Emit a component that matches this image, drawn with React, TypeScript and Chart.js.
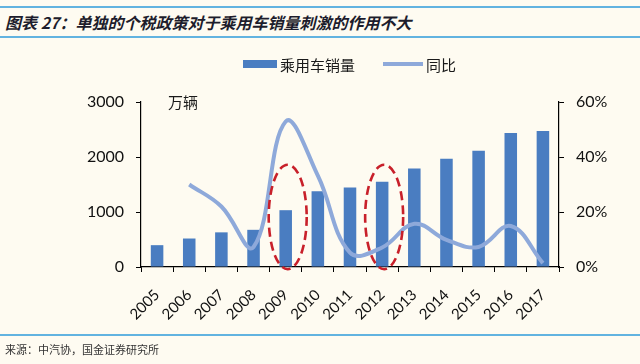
import React, { useEffect, useRef } from "react";
import { Chart, registerables } from "chart.js";

Chart.register(...registerables);

const categories = ["2005", "2006", "2007", "2008", "2009", "2010", "2011", "2012", "2013", "2014", "2015", "2016", "2017"];
const salesValues = [397, 518, 630, 676, 1033, 1376, 1447, 1550, 1793, 1970, 2115, 2438, 2472];
const yoyValues: (number | null)[] = [null, 30, 22, 7.3, 52.9, 33.2, 5.2, 7.1, 15.7, 9.9, 7.3, 14.9, 1.4];
const leftTicks = [0, 1000, 2000, 3000];
const rightTicks = [0, 20, 40, 60];
const highlighted = ["2009", "2012"];
const seriesNames = ["乘用车销量", "同比"];
const unitLabel = "万辆";
const titleText = "图表 27：单独的个税政策对于乘用车销量刺激的作用不大";
const sourceText = "来源：中汽协，国金证券研究所";

const BAR_COLOR = "#4A7DC1";
const LINE_COLOR = "#8EA9DA";
const RED = "#C8202A";
const BG = "#FEFBF1";
const RULE = "#62B3E0";
const NUM_FONT = "Lato, 'Noto Sans', sans-serif";
const CJK_FONT = "'Noto Sans CJK SC', 'Noto Sans', sans-serif";

export default function App() {
  const ref = useRef<HTMLCanvasElement | null>(null);

  useEffect(() => {
    if (!ref.current) return;

    const extras = {
      id: "extras",
      afterDatasetsDraw(chart: any) {
        const ctx = chart.ctx;
        const x = chart.scales.x;
        const y = chart.scales.y;
        ctx.save();
        ctx.strokeStyle = RED;
        ctx.lineWidth = 2.6;
        ctx.setLineDash([9, 5]);
        highlighted.forEach((cat) => {
          const idx = categories.indexOf(cat);
          const cx = x.getPixelForValue(idx) + 2;
          const top = y.getPixelForValue(1860);
          const bottom = y.getPixelForValue(-40);
          ctx.beginPath();
          ctx.ellipse(cx, (top + bottom) / 2, 19, (bottom - top) / 2, 0, 0, Math.PI * 2);
          ctx.stroke();
        });
        ctx.restore();
      },
      afterDraw(chart: any) {
        const ctx = chart.ctx;
        const area = chart.chartArea;
        ctx.save();
        ctx.fillStyle = "#1a1a1a";
        ctx.font = `15px ${CJK_FONT}`;
        ctx.textBaseline = "middle";
        ctx.textAlign = "left";
        ctx.fillText(unitLabel, 168, area.top);
        // legend
        const ds = chart.data.datasets;
        const bar = ds.find((d: any) => d.type === "bar");
        const line = ds.find((d: any) => d.type === "line");
        const ly = 64;
        ctx.fillStyle = bar.backgroundColor;
        ctx.fillRect(243, ly - 4, 34, 8);
        ctx.fillStyle = "#1a1a1a";
        ctx.fillText(bar.label, 280, ly + 1);
        ctx.strokeStyle = line.borderColor;
        ctx.lineWidth = 4;
        ctx.beginPath();
        ctx.moveTo(383, ly);
        ctx.lineTo(423, ly);
        ctx.stroke();
        ctx.fillText(line.label, 426, ly + 1);
        ctx.restore();
      },
    };

    const chart = new Chart(ref.current, {
      data: {
        labels: categories,
        datasets: [
          {
            type: "line",
            label: seriesNames[1],
            data: yoyValues,
            yAxisID: "y1",
            borderColor: LINE_COLOR,
            backgroundColor: LINE_COLOR,
            borderWidth: 4,
            tension: 0.4,
            pointRadius: 0,
            fill: false,
            order: 0,
          },
          {
            type: "bar",
            label: seriesNames[0],
            data: salesValues,
            yAxisID: "y",
            backgroundColor: BAR_COLOR,
            categoryPercentage: 1,
            barPercentage: 0.39,
            order: 1,
          },
        ],
      } as any,
      options: {
        animation: false,
        responsive: false,
        maintainAspectRatio: false,
        layout: { padding: { top: 102, left: 0, right: 0, bottom: 0 } },
        plugins: {
          legend: { display: false },
          tooltip: { enabled: false },
          title: { display: false },
        },
        scales: {
          x: {
            type: "category",
            offset: true,
            grid: { offset: true, drawOnChartArea: false, tickLength: 5, color: "#000", lineWidth: 1 },
            border: { display: true, color: "#000", width: 1.2 },
            ticks: {
              minRotation: 45,
              maxRotation: 45,
              autoSkip: false,
              padding: 14,
              color: "#111",
              font: { family: NUM_FONT, size: 15 },
            },
            afterFit: (s: any) => {
              s.height = 97;
            },
          },
          y: {
            position: "left",
            min: leftTicks[0],
            max: leftTicks[leftTicks.length - 1],
            afterBuildTicks: (s: any) => {
              s.ticks = leftTicks.map((v) => ({ value: v }));
            },
            grid: { drawOnChartArea: false, tickLength: 5, color: "#000", lineWidth: 1 },
            border: { display: true, color: "#000", width: 1.2 },
            ticks: {
              padding: 12,
              color: "#111",
              font: { family: NUM_FONT, size: 16 },
              callback: (v: any) => String(v),
            },
            afterFit: (s: any) => {
              s.width = 141;
            },
          },
          y1: {
            position: "right",
            min: rightTicks[0],
            max: rightTicks[rightTicks.length - 1],
            afterBuildTicks: (s: any) => {
              s.ticks = rightTicks.map((v) => ({ value: v }));
            },
            grid: { drawOnChartArea: false, tickLength: 5, color: "#000", lineWidth: 1 },
            border: { display: true, color: "#000", width: 1.2 },
            ticks: {
              padding: 12,
              color: "#111",
              font: { family: NUM_FONT, size: 16 },
              callback: (v: any) => `${v}%`,
            },
            afterFit: (s: any) => {
              s.width = 81;
            },
          },
        },
      } as any,
      plugins: [extras],
    });

    return () => chart.destroy();
  }, []);

  return (
    <div
      style={{
        position: "fixed",
        left: 0,
        top: 0,
        width: 640,
        height: 364,
        background: BG,
        overflow: "hidden",
      }}
    >
      <div style={{ position: "absolute", left: 0, top: 6, width: 640, height: 2, background: RULE }} />
      <div
        style={{
          position: "absolute",
          left: 5,
          top: 8,
          height: 28,
          lineHeight: "28px",
          fontFamily: CJK_FONT,
          fontWeight: 700,
          fontStyle: "italic",
          fontSize: 16,
          color: "#1d1d2c",
          whiteSpace: "nowrap",
        }}
      >
        {titleText}
      </div>
      <div style={{ position: "absolute", left: 0, top: 36, width: 640, height: 2, background: RULE }} />
      <canvas ref={ref} width={640} height={364} style={{ position: "absolute", left: 0, top: 0, width: 640, height: 364 }} />
      <div style={{ position: "absolute", left: 0, top: 334, width: 640, height: 2, background: RULE }} />
      <div
        style={{
          position: "absolute",
          left: 5,
          top: 341,
          lineHeight: "16px",
          fontFamily: CJK_FONT,
          fontSize: 11,
          color: "#333",
          whiteSpace: "nowrap",
        }}
      >
        {sourceText}
      </div>
    </div>
  );
}
